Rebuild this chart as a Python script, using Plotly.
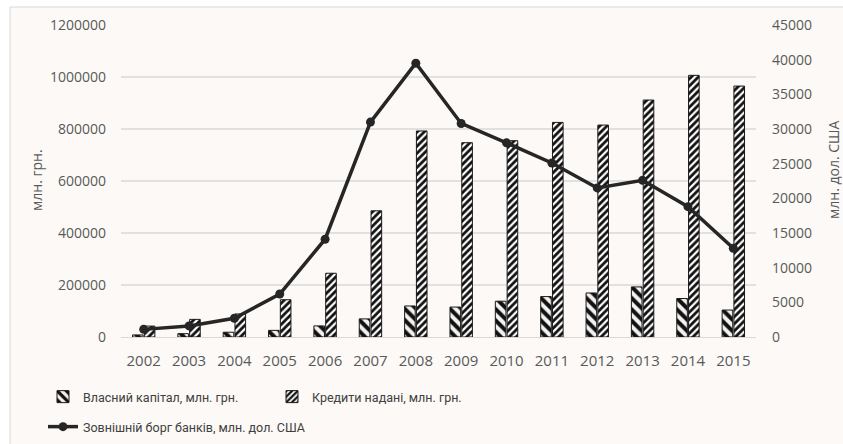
import plotly.graph_objects as go

years = ["2002", "2003", "2004", "2005", "2006", "2007", "2008",
         "2009", "2010", "2011", "2012", "2013", "2014", "2015"]
capital = [7900, 12900, 18400, 25500, 42600, 69600, 119300,
           115200, 137700, 155500, 169300, 192600, 148000, 103700]
loans = [42000, 67800, 88600, 143400, 245200, 485400, 792400,
         747300, 755000, 825300, 815100, 911400, 1006400, 965100]
ext_debt = [1100, 1600, 2700, 6200, 14100, 31000, 39500,
            30800, 28000, 25100, 21500, 22600, 18800, 12800]

left_ticks = [0, 200000, 400000, 600000, 800000, 1000000, 1200000]
right_ticks = [0, 5000, 10000, 15000, 20000, 25000, 30000, 35000, 40000, 45000]

name_cap = "Власний капітал, млн. грн."
name_loans = "Кредити надані, млн. грн."
name_debt = "Зовнішній борг банків, млн. дол. США"
title_left = "млн. грн."
title_right = "млн. дол. США"

BG = "#fcf9f6"
TICK = "#595959"
TXT = "#404040"
tick_font = dict(family="Open Sans", size=14, color=TICK)
leg_font = dict(family="Roboto", size=12.5, color=TXT)

L, R, T, B = 121, 756, 25, 337
PW, PH = R - L, B - T


def px_x(px):
    return (px - L) / PW


def px_y(py):
    return (B - py) / PH


fig = go.Figure()
fig.add_trace(go.Bar(
    x=years, y=capital, name=name_cap, legend="legend",
    marker=dict(color="#111111", line=dict(color="#1a1a1a", width=1),
                pattern=dict(shape="\\", fgcolor="#111111", bgcolor="#f4f2f0",
                             size=8, solidity=0.5, fillmode="replace")),
))
fig.add_trace(go.Bar(
    x=years, y=loans, name=name_loans, legend="legend",
    marker=dict(color="#111111", line=dict(color="#1a1a1a", width=1),
                pattern=dict(shape="/", fgcolor="#111111", bgcolor="#ffffff",
                             size=5, solidity=0.55, fillmode="replace")),
))
fig.add_trace(go.Scatter(
    x=years, y=ext_debt, name=name_debt, yaxis="y2", legend="legend2",
    mode="lines+markers",
    line=dict(color="#262626", width=3.5),
    marker=dict(color="#262626", size=9),
))

fig.update_layout(
    width=843, height=444,
    margin=dict(l=L, r=843 - R, t=T, b=444 - B),
    paper_bgcolor="#ffffff",
    plot_bgcolor=BG,
    barmode="group", bargap=0.48, bargroupgap=0.1,
    showlegend=True,
    xaxis=dict(
        type="category", range=[-0.5, 13.5], showgrid=False,
        showline=True, linecolor="#d9d9d9", linewidth=1,
        ticks="", tickfont=dict(family="Open Sans", size=15, color=TICK),
        ticklabelstandoff=10,
    ),
    yaxis=dict(
        range=[0, 1200000], tickvals=left_ticks,
        ticktext=[str(v) for v in left_ticks],
        showgrid=True, gridcolor="#e3e1df", gridwidth=1.5,
        zeroline=False, showline=False, ticks="",
        tickfont=tick_font, ticklabelstandoff=14,
    ),
    yaxis2=dict(
        overlaying="y", side="right", range=[0, 45000],
        tickvals=right_ticks, ticktext=[str(v) for v in right_ticks],
        showgrid=False, zeroline=False, showline=False, ticks="",
        tickfont=tick_font, ticklabelstandoff=15,
    ),
    legend=dict(
        orientation="h", xref="container", yref="container",
        x=43 / 843, y=1 - 397 / 444, xanchor="left", yanchor="middle",
        entrywidth=184, font=leg_font, bgcolor="rgba(0,0,0,0)",
        traceorder="normal",
    ),
    legend2=dict(
        orientation="h", xref="container", yref="container",
        x=43 / 843, y=1 - 427 / 444, xanchor="left", yanchor="middle",
        font=leg_font, bgcolor="rgba(0,0,0,0)",
    ),
    shapes=[dict(
        type="rect", xref="paper", yref="paper", layer="below",
        x0=px_x(10), x1=px_x(850), y0=px_y(450), y1=px_y(7),
        fillcolor=BG, line=dict(color="#d9d9d9", width=1),
    )],
    annotations=[
        dict(text=title_left, textangle=-90, xref="paper", yref="paper",
             x=px_x(36), y=px_y(180), xanchor="center", yanchor="middle",
             showarrow=False,
             font=dict(family="Open Sans", size=14, color=TICK)),
        dict(text=title_right, textangle=-90, xref="paper", yref="paper",
             x=px_x(833), y=px_y(170), xanchor="center", yanchor="middle",
             showarrow=False,
             font=dict(family="Open Sans", size=14, color=TICK)),
    ],
)

fig.write_html("out.html")
